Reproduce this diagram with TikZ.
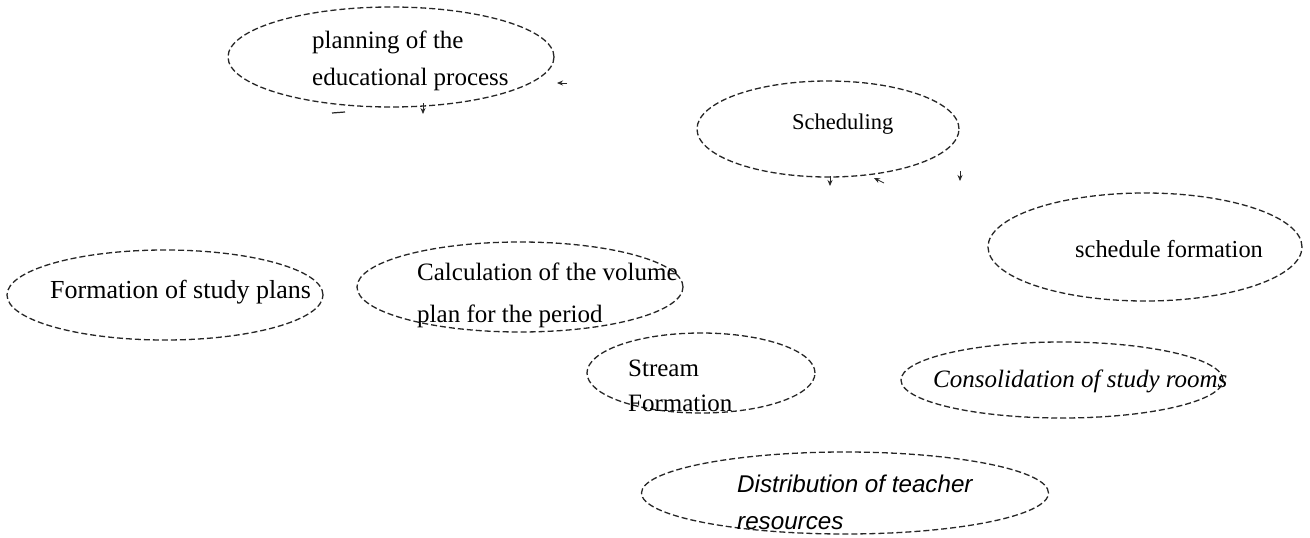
\documentclass[tikz,border=0pt]{standalone}
\usepackage{fontspec}
\setmainfont{Liberation Serif}
\newfontfamily\sansf{Liberation Sans}
\usetikzlibrary{shapes.geometric,arrows.meta}
\begin{document}
\begin{tikzpicture}[x=1pt,y=-1pt,
  ell/.style={ellipse, draw=black!85, dash pattern=on 6pt off 3pt, line width=1.3pt, inner sep=0pt},
  lbl/.style={anchor=west, inner sep=0pt, align=left, text=black},
  tipmark/.style={-{Stealth[length=6pt,width=5pt]}, line width=0.8pt, draw=black!85},
  frag/.style={line width=1.2pt, draw=black!85}]
\useasboundingbox[fill=white] (0,0) rectangle (1310,538);

% ellipses
\node[ell, minimum width=326pt, minimum height=100pt] (plan) at (391,57) {};
\node[ell, minimum width=262pt, minimum height=96pt] (sched) at (828,129) {};
\node[ell, minimum width=314pt, minimum height=108pt] (sform) at (1145,247) {};
\node[ell, minimum width=316pt, minimum height=90pt] (fplans) at (165,295) {};
\node[ell, minimum width=326pt, minimum height=90pt] (calc) at (520,287) {};
\node[ell, minimum width=228pt, minimum height=80pt] (stream) at (701,373) {};
\node[ell, minimum width=322pt, minimum height=76pt] (consol) at (1062,380) {};
\node[ell, minimum width=407pt, minimum height=82pt] (distr) at (845,493) {};

% labels
\node[lbl, font=\fontsize{25}{37}\selectfont] (planT) at (312,61) {planning of the\\educational process};
\node[lbl, font=\fontsize{22.5}{27}\selectfont] (schedT) at (792,124) {Scheduling};
\node[lbl, font=\fontsize{24.4}{29}\selectfont] (sformT) at (1075,249) {schedule formation};
\node[lbl, font=\fontsize{26}{31}\selectfont] (fplansT) at (50,292) {Formation of study plans};
\node[lbl, font=\fontsize{25}{42}\selectfont] (calcT) at (417,295) {Calculation of the volume\\plan for the period};
\node[lbl, font=\fontsize{25}{35}\selectfont] (streamT) at (628,386) {Stream\\Formation};
\node[lbl, font=\fontsize{25}{30}\selectfont\itshape] (consolT) at (933,381) {Consolidation of study rooms};
\node[lbl, font=\sansf\fontsize{24.2}{37}\selectfont\itshape] (distrT) at (737,502) {Distribution of teacher\\resources};

% faint arrow-tip fragments
\coordinate (m1a) at (567,83);  \coordinate (m1b) at (557,83);
\coordinate (m2a) at (423,103); \coordinate (m2b) at (423,114);
\coordinate (m3a) at (830,176); \coordinate (m3b) at (830,186);
\coordinate (m4a) at (884,183); \coordinate (m4b) at (874,178);
\coordinate (m5a) at (960,171); \coordinate (m5b) at (960,181);
\draw[tipmark] (m1a) -- (m1b);
\draw[tipmark] (m2a) -- (m2b);
\draw[tipmark] (m3a) -- (m3b);
\draw[tipmark] (m4a) -- (m4b);
\draw[tipmark] (m5a) -- (m5b);
\coordinate (f1a) at (332,113); \coordinate (f1b) at (345,112);
\draw[frag] (f1a) -- (f1b);
\end{tikzpicture}
\end{document}
